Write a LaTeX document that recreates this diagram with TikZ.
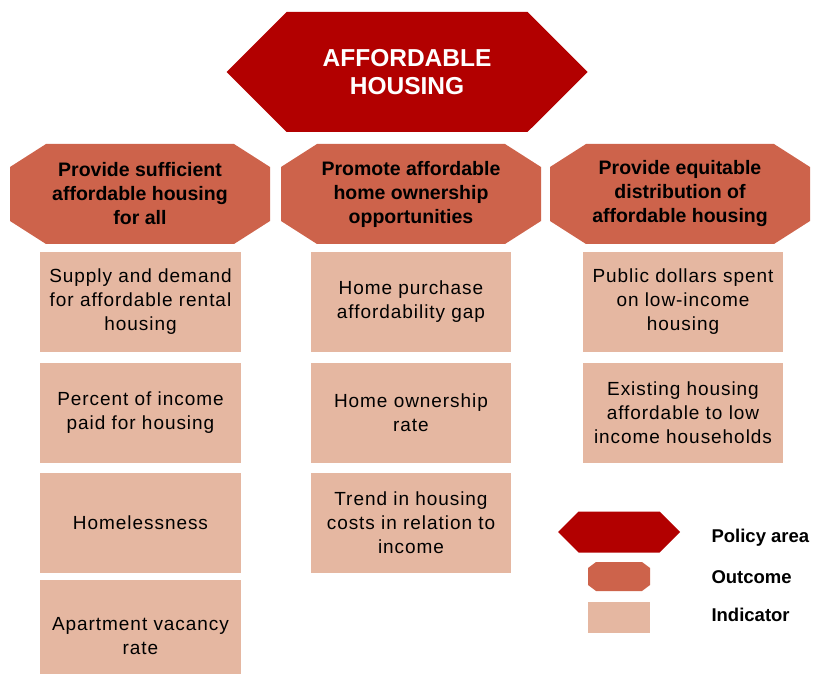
\documentclass[tikz,border=0pt]{standalone}
\usepackage{fontspec}
\setmainfont{Liberation Sans}
\newfontfamily\indicatorfont[LetterSpace=5]{Liberation Sans}
\usepackage{xcolor}
\usetikzlibrary{shapes.symbols}
\definecolor{PolicyRed}{RGB}{178,0,0}
\definecolor{OutcomeColor}{RGB}{205,99,75}
\definecolor{IndicatorColor}{RGB}{229,183,161}
\tikzset{
  policy/.style={signal, signal to=west and east, signal pointer angle=90, fill=PolicyRed,
    text=white, inner sep=0pt, align=center, font=\fontsize{24.5}{28}\selectfont\bfseries},
  % octagon: a rectangle with its corners cut by #1 (across) and #2 (down)
  outcome/.style 2 args={rectangle, inner sep=0pt, align=center,
    font=\fontsize{19.5}{24}\selectfont\bfseries,
    path picture={
      \fill[OutcomeColor] ([xshift=#1]path picture bounding box.north west)
        -- ([xshift=-#1]path picture bounding box.north east)
        -- ([yshift=-#2]path picture bounding box.north east)
        -- ([yshift=#2]path picture bounding box.south east)
        -- ([xshift=-#1]path picture bounding box.south east)
        -- ([xshift=#1]path picture bounding box.south west)
        -- ([yshift=#2]path picture bounding box.south west)
        -- ([yshift=-#2]path picture bounding box.north west) -- cycle;
    }},
  indicator/.style={rectangle, fill=IndicatorColor, inner sep=0pt, align=center,
    minimum width=200pt, minimum height=100pt, font=\fontsize{19}{24}\selectfont\indicatorfont},
  legendtext/.style={anchor=west, font=\fontsize{18.5}{22}\selectfont\bfseries},
}

\begin{document}
\begin{tikzpicture}[x=1pt, y=-1pt]
  \useasboundingbox (0,0) rectangle (815,674);

  % policy area
  \node[policy, minimum width=361pt, minimum height=120pt] (area) at (407,72) {AFFORDABLE\\HOUSING};

  % outcomes
  \node[outcome={36pt}{23pt}, minimum width=260pt, minimum height=100pt]
    (supply) at (140,194) {Provide sufficient\\affordable housing\\for all};
  \node[outcome={36pt}{23pt}, minimum width=260pt, minimum height=100pt]
    (owner) at (411,194) {Promote affordable\\home ownership\\opportunities};
  \node[outcome={36pt}{23pt}, minimum width=260pt, minimum height=100pt]
    (equity) at (680,194) {Provide equitable\\distribution of\\affordable housing};

  % indicators, first column (the last box runs off the page)
  \node[indicator, minimum width=201pt] (rental) at (140.5,302) {Supply and demand\\for affordable rental\\housing};
  \node[indicator, minimum width=201pt] (income) at (140.5,412.5) {Percent of income\\paid for housing};
  \node[indicator, minimum width=201pt] (homeless) at (140.5,522.5) {Homelessness};
  \node[indicator, minimum width=201pt, minimum height=112pt] (vacancy) at (140.5,636) {Apartment vacancy\\rate};

  % indicators, second column
  \node[indicator] (gap) at (411,302) {Home purchase\\affordability gap};
  \node[indicator] (rate) at (411,412.5) {Home ownership\\rate};
  \node[indicator] (trend) at (411,522.5) {Trend in housing\\costs in relation to\\income};

  % indicators, third column
  \node[indicator] (dollars) at (683,302) {Public dollars spent\\on low-income\\housing};
  \node[indicator] (existing) at (683,412.5) {Existing housing\\affordable to low\\income households};

  % legend
  \node[policy, minimum width=122pt, minimum height=41pt] (keyarea) at (619,532) {};
  \node[outcome={8pt}{6pt}, minimum width=62pt, minimum height=29pt] (keyoutcome) at (619,576.5) {};
  \node[indicator, minimum width=62pt, minimum height=31pt] (keyindicator) at (619,617.5) {};
  \node[legendtext] (keyareatext) at (708,538) {Policy area};
  \node[legendtext] (keyoutcometext) at (708,577) {Outcome};
  \node[legendtext] (keyindicatortext) at (708,615) {Indicator};
\end{tikzpicture}
\end{document}
